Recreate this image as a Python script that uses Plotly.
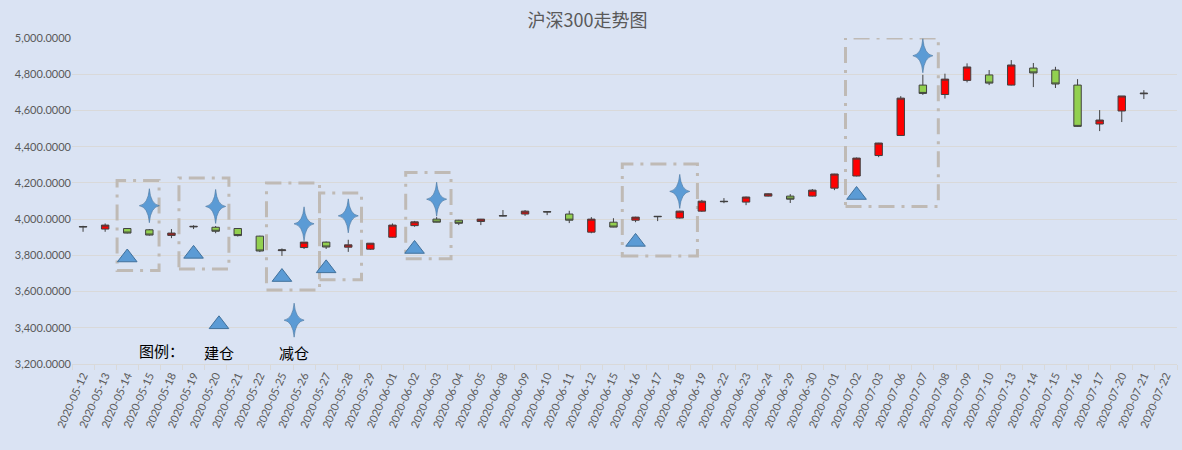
import plotly.graph_objects as go

# trading days shown on the axis (2020-07-22 has no candle in the source chart)
dates = [
    "2020-05-12", "2020-05-13", "2020-05-14", "2020-05-15", "2020-05-18", "2020-05-19",
    "2020-05-20", "2020-05-21", "2020-05-22", "2020-05-25", "2020-05-26", "2020-05-27",
    "2020-05-28", "2020-05-29", "2020-06-01", "2020-06-02", "2020-06-03", "2020-06-04",
    "2020-06-05", "2020-06-08", "2020-06-09", "2020-06-10", "2020-06-11", "2020-06-12",
    "2020-06-15", "2020-06-16", "2020-06-17", "2020-06-18", "2020-06-19", "2020-06-22",
    "2020-06-23", "2020-06-24", "2020-06-29", "2020-06-30", "2020-07-01", "2020-07-02",
    "2020-07-03", "2020-07-06", "2020-07-07", "2020-07-08", "2020-07-09", "2020-07-10",
    "2020-07-13", "2020-07-14", "2020-07-15", "2020-07-16", "2020-07-17", "2020-07-20",
    "2020-07-21", "2020-07-22",
]

open_ = [
    3956, 3945, 3948, 3941, 3910, 3957, 3955, 3948, 3906, 3826, 3843, 3873,
    3845, 3834, 3900, 3964, 4000, 3994, 3987, 4017, 4028, 4039, 4028, 3928,
    3983, 3994, 4013, 4006, 4044, 4096, 4094, 4127, 4127, 4127, 4171, 4238,
    4351, 4462, 4740, 4688, 4766, 4796, 4740, 4834, 4823, 4740, 4525, 4597,
    4692, None,
]
high = [
    3963, 3976, 3950, 3945, 3945, 3966, 3962, 3950, 3908, 3838, 3875, 3876,
    3886, 3868, 3976, 3990, 4011, 3996, 4001, 4050, 4050, 4042, 4046, 4011,
    4005, 4013, 4016, 4046, 4106, 4116, 4124, 4142, 4138, 4166, 4250, 4340,
    4421, 4679, 4797, 4803, 4860, 4823, 4878, 4862, 4841, 4773, 4602, 4680,
    4712, None,
]
low = [
    3930, 3930, 3921, 3909, 3895, 3945, 3922, 3904, 3818, 3797, 3835, 3835,
    3819, 3830, 3898, 3958, 3982, 3967, 3967, 4015, 4018, 4022, 3978, 3922,
    3955, 3983, 3989, 4003, 4040, 4088, 4077, 4125, 4089, 4125, 4160, 4236,
    4342, 4460, 4686, 4666, 4755, 4740, 4738, 4729, 4724, 4510, 4486, 4536,
    4663, None,
]
close = [
    3959, 3967, 3923, 3912, 3923, 3960, 3933, 3909, 3824, 3830, 3873, 3846,
    3858, 3867, 3967, 3985, 3983, 3977, 4000, 4019, 4044, 4041, 3994, 4000,
    3956, 4011, 4015, 4044, 4099, 4098, 4122, 4140, 4110, 4160, 4249, 4337,
    4420, 4668, 4694, 4773, 4840, 4751, 4851, 4807, 4746, 4512, 4547, 4680,
    4695, None,
]

# 建仓 (open position) and 减仓 (reduce position) points
buy_dates = ["2020-05-14", "2020-05-19", "2020-05-25", "2020-05-27", "2020-06-02", "2020-06-16", "2020-07-02"]
buy_price = [3788, 3808, 3680, 3728, 3835, 3874, 4133]
sell_dates = ["2020-05-15", "2020-05-20", "2020-05-26", "2020-05-28", "2020-06-03", "2020-06-18", "2020-07-07"]
sell_price = [4074, 4070, 3974, 4018, 4110, 4153, 4902]

# dash-dot boxes around each trade (category index span, price span)
box_x0 = [1.54, 4.34, 8.3, 10.7, 14.6, 24.4, 34.5]
box_x1 = [3.44, 6.6, 10.7, 12.6, 16.65, 27.8, 38.7]
box_y0 = [3716, 3725, 3609, 3665, 3781, 3797, 4070]
box_y1 = [4213, 4227, 4199, 4144, 4257, 4304, 5000]

# hand-drawn legend: (axis position, price)
legend_buy = (6.15, 3419)
legend_sell = (9.55, 3442)

BLUE = "#5b9bd5"
BLUE_EDGE = "#41719c"
GRID = "#d9d9d9"
TXT = "#595959"
BG = "#dae3f3"

# thin four-point star, in pixels around its anchor
STAR = "M0,17 Q1.3,1.3 10,0 Q1.3,-1.3 0,-17 Q-1.3,-1.3 -10,0 Q-1.3,1.3 0,17 Z"


def star(fig, xref, xpos, ypos):
    fig.add_shape(type="path", xref=xref, yref="y", xsizemode="pixel", ysizemode="pixel",
                  xanchor=xpos, yanchor=ypos, path=STAR, fillcolor=BLUE,
                  line=dict(color=BLUE_EDGE, width=0.6), layer="above")


fig = go.Figure()

fig.add_trace(go.Candlestick(
    x=dates, open=open_, high=high, low=low, close=close,
    increasing=dict(fillcolor="#ff0000", line=dict(color="#404040", width=1)),
    decreasing=dict(fillcolor="#92d050", line=dict(color="#404040", width=1)),
    whiskerwidth=0, hoverinfo="skip", showlegend=False,
))

fig.add_trace(go.Scatter(
    x=buy_dates, y=buy_price, mode="markers", showlegend=False, hoverinfo="skip",
    marker=dict(symbol="triangle-up", size=17, color=BLUE, line=dict(color=BLUE_EDGE, width=1)),
))
fig.add_trace(go.Scatter(
    x=[legend_buy[0]], y=[legend_buy[1]], xaxis="x2", mode="markers", showlegend=False,
    hoverinfo="skip",
    marker=dict(symbol="triangle-up", size=17, color=BLUE, line=dict(color=BLUE_EDGE, width=1)),
))

for d, p in zip(sell_dates, sell_price):
    star(fig, "x", dates.index(d), p)
star(fig, "x2", legend_sell[0], legend_sell[1])

for x0, x1, y0, y1 in zip(box_x0, box_x1, box_y0, box_y1):
    fig.add_shape(type="rect", xref="x", yref="y", x0=x0, x1=x1, y0=y0, y1=y1,
                  layer="between",
                  line=dict(color="#bfbab5", width=3, dash="16px,7px,3px,7px"))

cjk = "Noto Sans CJK SC"
for txt, xi, yv in [("图例：", 3.55, 3272), ("建仓", 6.15, 3264), ("减仓", 9.55, 3264)]:
    fig.add_annotation(x=xi, y=yv, xref="x2", yref="y", text=txt, showarrow=False,
                       font=dict(family=cjk, size=15, color="#000000"))

fig.update_layout(
    width=1182, height=450,
    margin=dict(l=72, r=5, t=38, b=86),
    paper_bgcolor=BG, plot_bgcolor=BG,
    boxgap=0.52,
    title=dict(text="沪深300走势图", x=0.497, xanchor="center", y=0.953, yanchor="middle",
               font=dict(family=cjk, size=18, color=TXT)),
    font=dict(family="Lato, Open Sans, sans-serif", size=11, color=TXT),
    xaxis=dict(
        type="category", categoryorder="array", categoryarray=dates,
        range=[-0.5, len(dates) - 0.5], rangeslider=dict(visible=False),
        tickangle=-66, showgrid=False, showline=True, linecolor=GRID, linewidth=1,
        ticks="outside", tickson="boundaries", ticklen=5, tickcolor=GRID,
        tickfont=dict(size=11, color=TXT), automargin=False,
    ),
    xaxis2=dict(overlaying="x", range=[-0.5, len(dates) - 0.5], visible=False),
    yaxis=dict(
        range=[3200, 5000], dtick=200, tickformat=",.4f",
        showgrid=True, gridcolor=GRID, gridwidth=1, zeroline=False,
        ticks="", tickfont=dict(size=11, color=TXT), automargin=False,
    ),
)

# the page body has a default 8px margin; drop it so the figure sits at 0,0
fig.write_html("out.html", config={"displayModeBar": False},
               post_script="document.body.style.margin='0';")
